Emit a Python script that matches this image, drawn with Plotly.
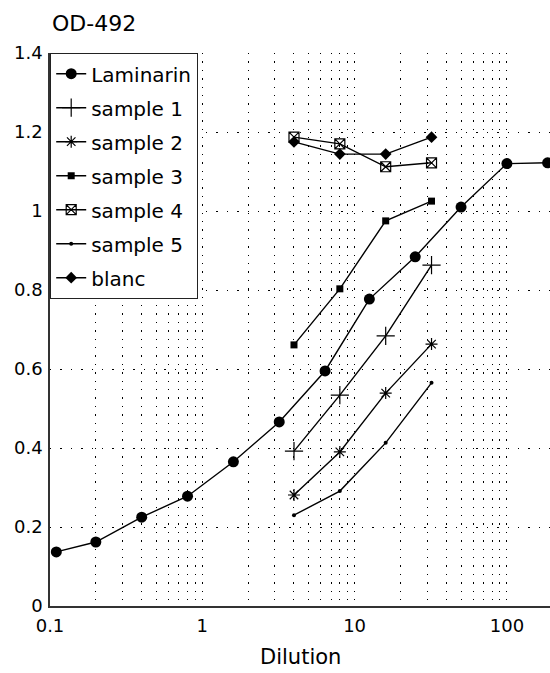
import plotly.graph_objects as go

# Dilution series and optical density readings (OD at 492 nm)
lam_dilution = [0.11, 0.2, 0.4, 0.8, 1.6, 3.2, 6.4, 12.5, 25, 50, 100, 185]
lam_od = [0.137, 0.162, 0.225, 0.278, 0.365, 0.466, 0.595, 0.777, 0.884, 1.01, 1.12, 1.122]

sample_dilution = [4, 8, 16, 32]
sample1_od = [0.392, 0.534, 0.684, 0.863]
sample2_od = [0.281, 0.390, 0.539, 0.663]
sample3_od = [0.661, 0.803, 0.975, 1.025]
sample4_od = [1.187, 1.170, 1.112, 1.122]
sample5_od = [0.230, 0.291, 0.413, 0.565]
blanc_od = [1.175, 1.144, 1.144, 1.187]

x_tickvals = [0.1, 1, 10, 100]
x_ticktext = ["0.1", "1", "10", "100"]
y_tickvals = [0, 0.2, 0.4, 0.6, 0.8, 1.0, 1.2, 1.4]
y_ticktext = ["0", "0.2", "0.4", "0.6", "0.8", "1", "1.2", "1.4"]

FONT = "DejaVu Sans, Liberation Sans, sans-serif"
INK = "#000000"

series = [
    ("Laminarin", lam_dilution, lam_od, dict(symbol="circle", size=11)),
    ("sample 1", sample_dilution, sample1_od, dict(symbol="cross-thin-open", size=13, line=dict(width=1.2, color=INK))),
    ("sample 2", sample_dilution, sample2_od, dict(symbol="asterisk-open", size=10, line=dict(width=1.2, color=INK))),
    ("sample 3", sample_dilution, sample3_od, dict(symbol="square", size=7)),
    ("sample 4", sample_dilution, sample4_od, dict(symbol="square-x-open", size=10, line=dict(width=1.2, color=INK))),
    ("sample 5", sample_dilution, sample5_od, dict(symbol="circle", size=4)),
    ("blanc", sample_dilution, blanc_od, dict(symbol="diamond", size=9)),
]

fig = go.Figure()
for i, (name, xs, ys, mk) in enumerate(series):
    mk = dict(mk)
    mk["color"] = INK
    fig.add_trace(go.Scatter(
        x=xs, y=ys, name=name, mode="lines+markers",
        line=dict(color=INK, width=1.4),
        marker=mk,
        legendgroup=f"g{i}",
        cliponaxis=True,
    ))

fig.update_layout(
    width=550, height=673,
    margin=dict(l=50, r=0, t=53, b=67),
    paper_bgcolor="white", plot_bgcolor="white",
    font=dict(family=FONT, size=18, color=INK),
    showlegend=True,
    legend=dict(
        x=0, y=1, xanchor="left", yanchor="top",
        bgcolor="white", bordercolor="#222", borderwidth=1.2,
        font=dict(family=FONT, size=20, color=INK),
        traceorder="grouped", tracegroupgap=5,
        itemwidth=30,
    ),
    xaxis=dict(
        type="log", range=[-1, 2.283],
        tickvals=x_tickvals, ticktext=x_ticktext,
        showline=True, linecolor="#333", linewidth=1.5, mirror=False,
        ticks="", zeroline=False, ticklabelstandoff=3,
        showgrid=True, gridcolor=INK, gridwidth=1.4, griddash="1.4px,7px",
        minor=dict(dtick="D1", showgrid=True, gridcolor=INK, gridwidth=1.4,
                   griddash="1.4px,7px", ticks=""),
        tickfont=dict(family=FONT, size=18, color=INK),
    ),
    yaxis=dict(
        range=[0, 1.4],
        tickvals=y_tickvals, ticktext=y_ticktext,
        showline=True, linecolor="#333", linewidth=1.5, mirror=False,
        ticks="", zeroline=False, ticklabelstandoff=2,
        showgrid=True, gridcolor=INK, gridwidth=1.4, griddash="1.4px,9px",
        tickfont=dict(family=FONT, size=18, color=INK),
    ),
    annotations=[
        dict(text="OD-492", xref="paper", yref="paper", x=0, y=1.0,
             xanchor="left", yanchor="middle", yshift=30, showarrow=False,
             font=dict(family=FONT, size=22, color=INK)),
        dict(text="Dilution", xref="paper", yref="paper", x=0.5, y=0,
             xanchor="center", yanchor="middle", yshift=-51, showarrow=False,
             font=dict(family=FONT, size=21, color=INK)),
    ],
)

fig.write_html("out.html")
